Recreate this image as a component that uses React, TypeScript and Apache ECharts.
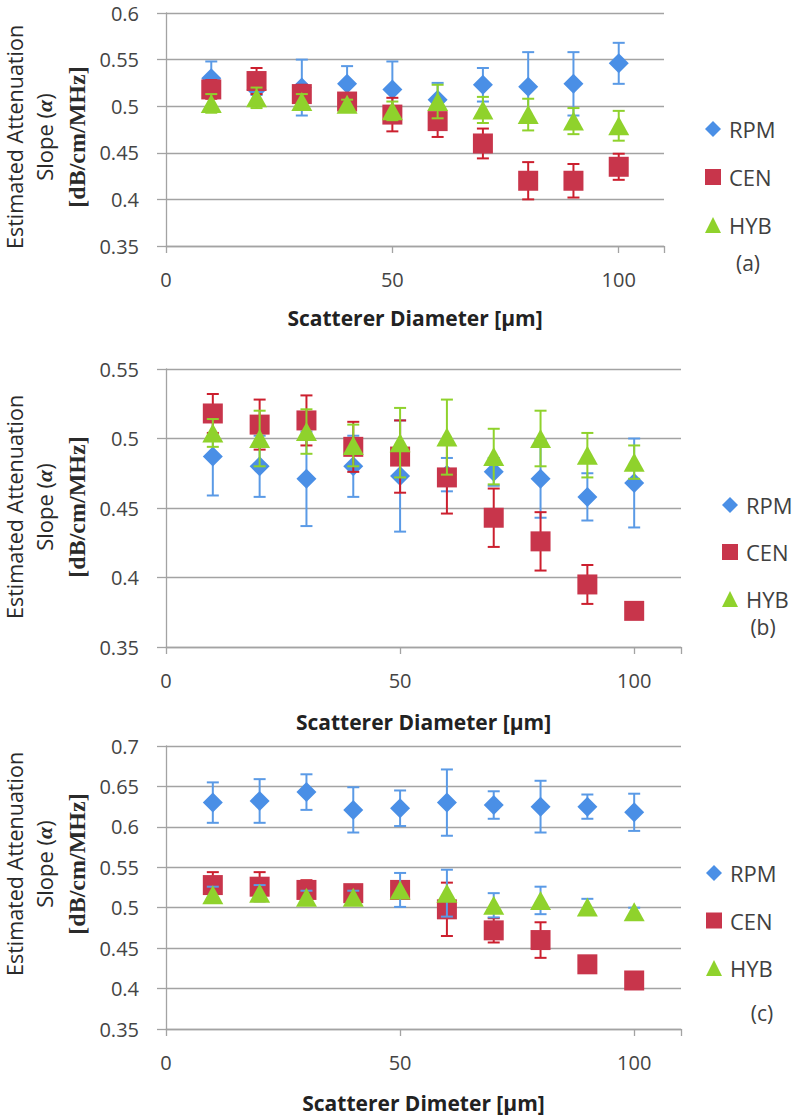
import React, { useEffect, useRef } from "react";
import * as echarts from "echarts";

const xVals = [10, 20, 30, 40, 50, 60, 70, 80, 90, 100];
const seriesNames = ["RPM", "CEN", "HYB"];
const panelTags = ["(a)", "(b)", "(c)"];
const xNames = ["Scatterer Diameter [µm]", "Scatterer Diameter [µm]", "Scatterer Dimeter [µm]"];

// Panel (a)
const aRPM = [0.530, 0.518, 0.520, 0.524, 0.518, 0.507, 0.523, 0.521, 0.524, 0.546];
const aRPMErr = [0.018, 0.006, 0.030, 0.019, 0.030, 0.018, 0.018, 0.037, 0.034, 0.022];
const aCEN = [0.518, 0.527, 0.513, 0.505, 0.491, 0.484, 0.460, 0.420, 0.420, 0.435];
const aCENErr = [0.010, 0.014, 0.010, 0.008, 0.018, 0.017, 0.016, 0.020, 0.018, 0.014];
const aHYB = [0.503, 0.509, 0.505, 0.502, 0.495, 0.505, 0.496, 0.491, 0.484, 0.479];
const aHYBErr = [0.010, 0.011, 0.008, 0.005, 0.010, 0.018, 0.014, 0.017, 0.014, 0.016];

// Panel (b)
const bRPM = [0.487, 0.480, 0.471, 0.480, 0.473, 0.474, 0.476, 0.471, 0.458, 0.468];
const bRPMErr = [0.028, 0.022, 0.034, 0.022, 0.040, 0.012, 0.010, 0.028, 0.017, 0.032];
const bCEN = [0.518, 0.510, 0.513, 0.494, 0.487, 0.472, 0.443, 0.426, 0.395, 0.376];
const bCENErr = [0.014, 0.018, 0.018, 0.018, 0.026, 0.026, 0.021, 0.021, 0.014, 0.002];
const bHYB = [0.504, 0.500, 0.505, 0.495, 0.497, 0.501, 0.487, 0.500, 0.488, 0.483];
const bHYBErr = [0.010, 0.020, 0.016, 0.015, 0.025, 0.027, 0.020, 0.020, 0.016, 0.012];

// Panel (c)
const cRPM = [0.630, 0.632, 0.643, 0.621, 0.623, 0.630, 0.627, 0.625, 0.625, 0.618];
const cRPMErr = [0.025, 0.027, 0.022, 0.028, 0.022, 0.041, 0.017, 0.032, 0.015, 0.023];
const cCEN = [0.528, 0.526, 0.522, 0.518, 0.522, 0.498, 0.472, 0.460, 0.430, 0.410];
const cCENErr = [0.016, 0.018, 0.012, 0.010, 0.005, 0.033, 0.015, 0.022, 0, 0];
const cHYB = [0.516, 0.518, 0.513, 0.513, 0.522, 0.518, 0.503, 0.509, 0.501, 0.495];
const cHYBErr = [0.010, 0.010, 0.008, 0.008, 0.021, 0.029, 0.015, 0.017, 0.010, 0.005];

const yMins = [0.35, 0.35, 0.35];
const yMaxs = [0.6, 0.55, 0.7];

const panels = [
  { vals: [aRPM, aCEN, aHYB], errs: [aRPMErr, aCENErr, aHYBErr] },
  { vals: [bRPM, bCEN, bHYB], errs: [bRPMErr, bCENErr, bHYBErr] },
  { vals: [cRPM, cCEN, cHYB], errs: [cRPMErr, cCENErr, cHYBErr] },
];

const markerColors = ["#4a8fe6", "#c8354b", "#8fd22c"];
const barColorsByPanel = [
  ["#5a9ae6", "#cc1f2e", "#8fd22c"],
  ["#5a9ae6", "#cc1f2e", "#8fd22c"],
  ["#5a9ae6", "#cc1f2e", "#5a9ae6"],
];
const symbols = ["diamond", "rect", "triangle"];

// layout
const grids = [
  { left: 166, top: 13, width: 498, height: 233 },
  { left: 166, top: 369, width: 515, height: 278 },
  { left: 166, top: 746, width: 515, height: 283 },
];
const xNameGaps = [61, 64, 63];
const labelCenters = [137, 507, 864];
const legendPos = [
  { left: 700, top: 113, gap: 26 },
  { left: 717, top: 489, gap: 25 },
  { left: 701, top: 857, gap: 25.5 },
];
const tagPos = [
  { x: 748, y: 263 },
  { x: 763, y: 627 },
  { x: 762, y: 1013 },
];

const AXIS_GRAY = "#a3a3a3";
const SANS = "'Open Sans', 'DejaVu Sans', sans-serif";
const SERIF = "'Liberation Serif', 'DejaVu Serif', serif";

export default function App() {
  const ref = useRef<HTMLDivElement>(null);

  useEffect(() => {
    if (!ref.current) return;
    const chart = echarts.init(ref.current, undefined, { renderer: "svg" });

    const xAxis: any[] = [];
    const yAxis: any[] = [];
    const series: any[] = [];
    const legend: any[] = [];
    const graphic: any[] = [];

    panels.forEach((p, pi) => {
      xAxis.push({
        type: "value",
        gridIndex: pi,
        min: 0,
        max: 110,
        interval: 50,
        name: xNames[pi],
        nameLocation: "middle",
        nameGap: xNameGaps[pi],
        nameTextStyle: { fontFamily: SANS, fontSize: 21, fontWeight: "bold", color: "#222" },
        axisLine: { show: true, lineStyle: { color: AXIS_GRAY, width: 1.3 } },
        axisTick: { show: true, length: 7, lineStyle: { color: AXIS_GRAY, width: 1.3 } },
        axisLabel: {
          fontFamily: SANS,
          fontSize: 20,
          color: "#444",
          margin: 23,
          formatter: (v: number) => (v > 100 ? "" : String(v)),
        },
        splitLine: { show: false },
      });
      yAxis.push({
        type: "value",
        gridIndex: pi,
        min: yMins[pi],
        max: yMaxs[pi],
        interval: 0.05,
        axisLine: { show: true, lineStyle: { color: AXIS_GRAY, width: 1.3 } },
        axisTick: { show: true, length: 9, lineStyle: { color: AXIS_GRAY, width: 1.3 } },
        axisLabel: {
          fontFamily: SANS,
          fontSize: 20,
          lineHeight: 18,
          color: "#444",
          margin: 27,
          formatter: (v: number) => String(parseFloat(v.toFixed(2))),
        },
        splitLine: { show: true, lineStyle: { color: AXIS_GRAY, width: 1.3 } },
      });

      p.vals.forEach((vals, si) => {
        const errs = p.errs[si];
        const barColor = barColorsByPanel[pi][si];
        series.push({
          type: "custom",
          name: seriesNames[si] + " error " + pi,
          xAxisIndex: pi,
          yAxisIndex: pi,
          z: 1 + si * 2,
          silent: true,
          encode: { x: 0, y: 1 },
          data: xVals.map((x, i) => [x, vals[i], errs[i]]),
          renderItem: (_params: any, api: any) => {
            const x = api.value(0);
            const y = api.value(1);
            const e = api.value(2);
            const top = api.coord([x, y + e]);
            const bot = api.coord([x, y - e]);
            const hw = 6;
            const st = { stroke: barColor, lineWidth: 2 };
            return {
              type: "group",
              children: [
                { type: "line", shape: { x1: top[0], y1: top[1], x2: bot[0], y2: bot[1] }, style: st },
                { type: "line", shape: { x1: top[0] - hw, y1: top[1], x2: top[0] + hw, y2: top[1] }, style: st },
                { type: "line", shape: { x1: bot[0] - hw, y1: bot[1], x2: bot[0] + hw, y2: bot[1] }, style: st },
              ],
            };
          },
        });
        series.push({
          type: "scatter",
          name: seriesNames[si],
          xAxisIndex: pi,
          yAxisIndex: pi,
          z: 2 + si * 2,
          symbol: symbols[si],
          symbolSize: si === 2 ? [21, 19] : 20,
          itemStyle: { color: markerColors[si], opacity: 1 },
          data: xVals.map((x, i) => [x, vals[i]]),
        });
      });

      legend.push({
        orient: "vertical",
        left: legendPos[pi].left,
        top: legendPos[pi].top,
        itemWidth: 16,
        itemHeight: 16,
        itemGap: legendPos[pi].gap,
        selectedMode: false,
        data: seriesNames,
        textStyle: { fontFamily: SANS, fontSize: 22, color: "#404040", lineHeight: 22, padding: [0, 0, 0, 3] },
      });

      const cy = labelCenters[pi];
      graphic.push(
        {
          type: "text",
          x: 14,
          y: cy,
          rotation: Math.PI / 2,
          style: {
            text: "Estimated Attenuation",
            fontFamily: SANS,
            fontSize: 21.5,
            fill: "#2a2a2a",
            align: "center",
            verticalAlign: "middle",
          },
        },
        {
          type: "text",
          x: 44,
          y: cy,
          rotation: Math.PI / 2,
          style: {
            text: "Slope ({a|α})",
            fontFamily: SANS,
            fontSize: 22,
            fill: "#2a2a2a",
            align: "center",
            verticalAlign: "middle",
            rich: {
              a: { fontFamily: SERIF, fontStyle: "italic", fontWeight: "bold", fontSize: 22, fill: "#2a2a2a" },
            },
          },
        },
        {
          type: "text",
          x: 77,
          y: cy,
          rotation: Math.PI / 2,
          style: {
            text: "[dB/cm/MHz]",
            fontFamily: SERIF,
            fontWeight: "bold",
            fontSize: 24,
            fill: "#2a2a2a",
            align: "center",
            verticalAlign: "middle",
          },
        },
        {
          type: "text",
          x: tagPos[pi].x,
          y: tagPos[pi].y,
          style: {
            text: panelTags[pi],
            fontFamily: SANS,
            fontSize: 21,
            fill: "#404040",
            align: "center",
            verticalAlign: "middle",
          },
        }
      );
    });

    chart.setOption({
      animation: false,
      backgroundColor: "#ffffff",
      grid: grids.map((g) => ({ ...g, containLabel: false })),
      xAxis,
      yAxis,
      legend,
      series,
      graphic,
    });

    return () => chart.dispose();
  }, []);

  return (
    <div
      ref={ref}
      style={{ position: "absolute", left: 0, top: 0, width: 793, height: 1115, background: "#fff" }}
    />
  );
}
